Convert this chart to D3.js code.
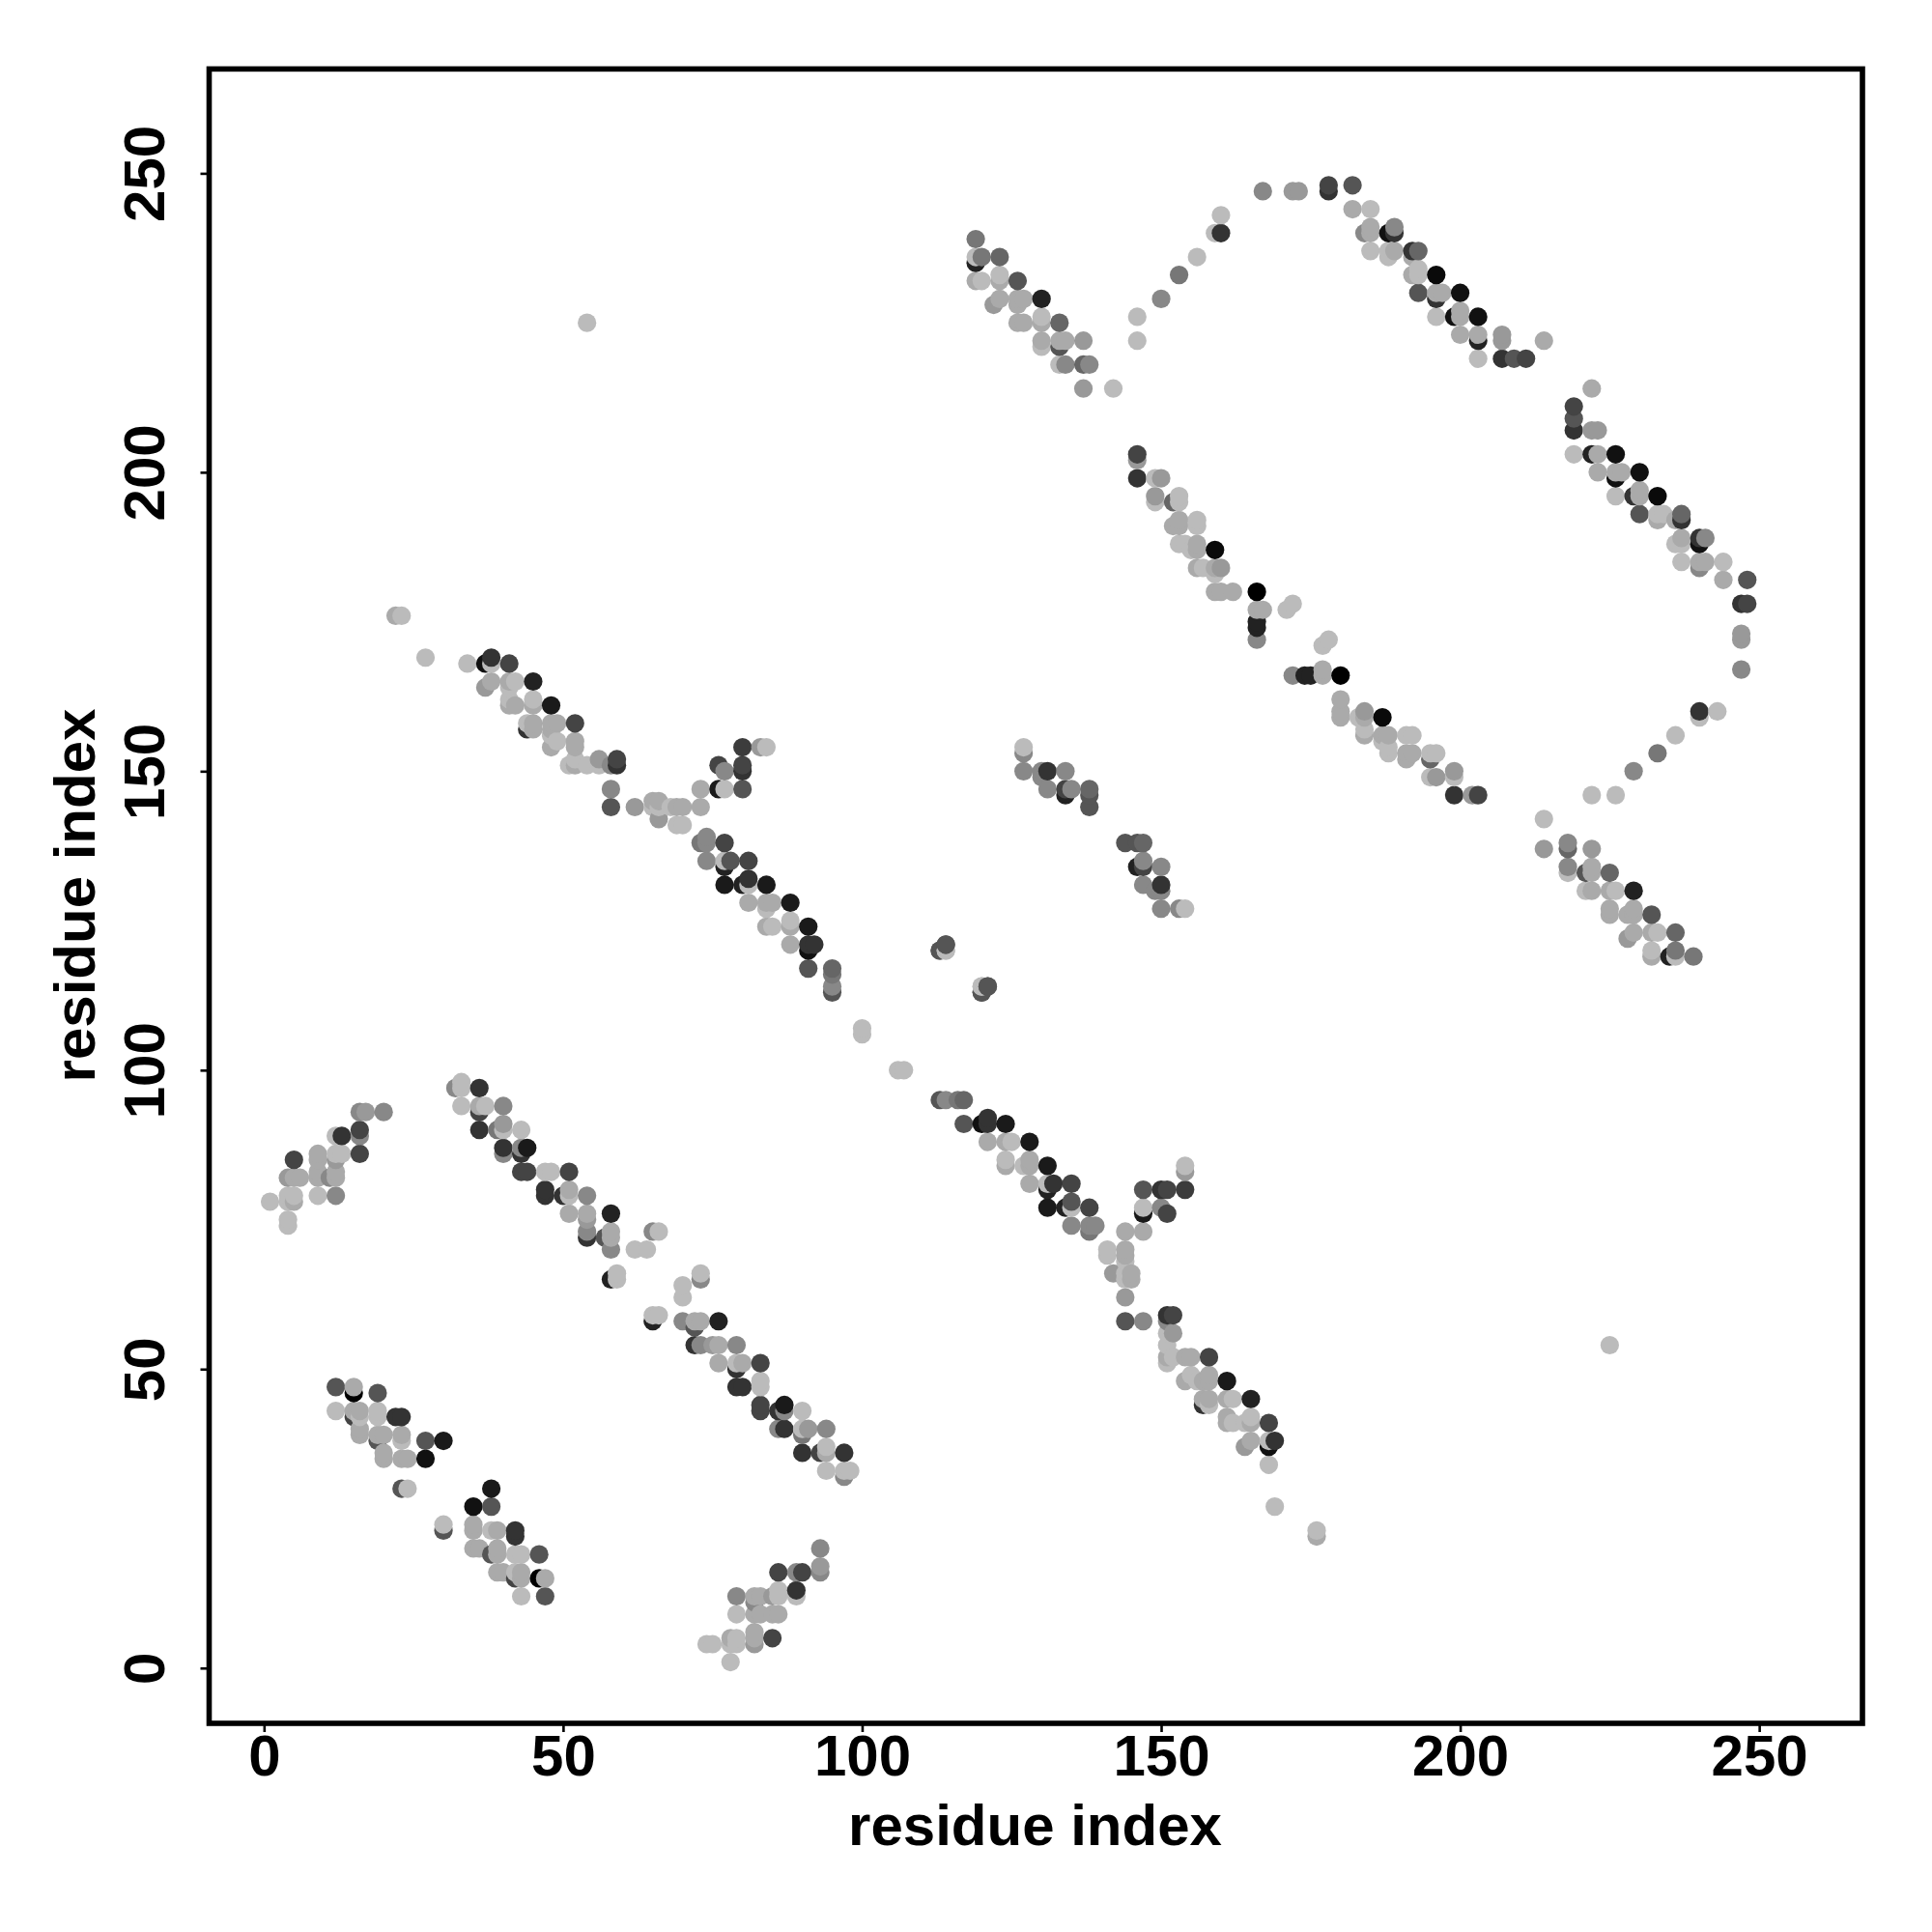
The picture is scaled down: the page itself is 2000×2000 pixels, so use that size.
<!DOCTYPE html>
<html><head><meta charset="utf-8">
<script src="https://cdn.jsdelivr.net/npm/d3@7"></script>
<style>html,body{margin:0;padding:0;background:#fff}svg{display:block}</style>
</head><body><svg id="c" width="2000" height="2000"></svg>
<script>
// contacts [residue i, residue j, grey level]; the map is symmetric, only i>j is listed
const hairpinA = [[30,24,187],[30,23,85],[35,24,170],[35,23,170],[38,30,26],[35,27,17],[38,27,85],[38,23,187],[39,23,170],[42,23,51],[42,22,51],[35,20,170],[36,20,170],[38,19,85],[39,20,170],[39,19,170],[42,19,187],[43,19,187],[46,19,85],[39,16,170],[40,16,170],[42,16,187],[43,16,170],[42,15,68],[43,15,170],[46,15,0],[47,15,170],[43,12,187],[47,12,85]];
const hairpinB = [[73,66,187],[73,65,136],[70,64,187],[70,62,187],[65,59,187],[66,59,187],[65,58,34],[70,58,136],[72,58,170],[73,58,170],[72,57,85],[76,58,34],[72,54,51],[73,54,136],[75,54,153],[76,54,170],[79,54,136],[76,51,170],[79,51,187],[80,51,170],[79,50,51],[83,51,68],[79,47,51],[80,47,51],[83,48,187],[83,47,187],[83,44,68],[83,43,68],[86,43,51],[87,44,26],[87,43,136],[90,43,187],[86,40,136],[87,40,51],[90,40,187],[91,40,153],[90,39,119],[94,40,136],[90,36,51],[93,36,68],[94,37,187],[94,36,170],[97,36,51],[94,33,187],[97,33,187],[98,33,187],[97,32,136]];
const strandC = [[93,20,136],[93,17,153],[93,16,136],[86,16,68],[89,16,136],[90,16,68],[89,13,51],[89,12,187],[86,13,187],[86,12,187],[79,12,136],[79,9,187],[82,12,170],[83,12,170],[85,12,153],[82,11,136],[82,9,170],[83,9,170],[85,9,170],[86,9,170],[85,5,68],[82,6,170],[82,5,170],[82,4,153],[78,5,170],[79,5,187],[78,4,187],[79,4,187],[74,4,187],[75,4,187],[78,1,187]];
const strandD = [[144,62,153],[144,58,85],[147,58,136],[151,59,51],[152,59,68],[151,58,136],[152,56,153],[151,56,187],[151,54,187],[151,52,170],[151,51,187],[152,52,187],[154,52,170],[155,52,170],[158,52,68],[154,48,170],[155,49,187],[156,48,187],[157,48,170],[158,49,170],[158,48,170],[161,48,26],[157,45,170],[158,45,170],[157,44,51],[158,44,187],[161,45,170],[162,45,187],[165,45,34],[161,42,170],[161,41,170],[162,41,187],[164,41,187],[165,42,187],[165,41,170],[168,41,68],[164,37,153],[165,38,170],[168,38,187],[169,38,51],[168,37,17],[168,34,187],[169,27,187],[176,23,187],[176,22,170]];
const strandE = [[113,95,85],[114,95,136],[116,95,119],[117,95,102],[117,91,85],[120,91,17],[121,92,51],[121,91,51],[124,91,26],[121,88,170],[124,88,170],[125,88,187],[128,88,26],[124,85,187],[124,84,170],[127,84,187],[128,85,170],[128,84,170],[131,84,26],[128,81,170],[131,81,187],[131,80,34],[132,81,51],[135,81,68],[131,77,26],[134,77,34],[135,78,85],[135,77,187],[138,77,68],[135,74,136],[138,74,136],[138,73,119],[139,74,136]];
const strandF = [[154,84,187],[154,83,153],[154,80,60],[147,80,85],[150,80,51],[151,80,68],[147,77,187],[147,76,26],[150,77,136],[151,76,68],[144,73,170],[147,73,170],[141,70,187],[141,69,187],[144,70,170],[144,69,170],[144,68,187],[142,66,153],[144,66,187],[145,66,170],[144,65,187],[145,65,170]];
const loopG = [[144,138,85],[146,138,85],[147,138,102],[146,134,34],[147,135,136],[147,134,68],[150,134,136],[147,131,136],[149,130,136],[150,131,51],[150,130,136],[150,127,136],[153,127,136],[154,127,187],[113,120,85],[114,120,187],[114,121,85],[120,114,187],[120,113,85],[121,114,85],[106,100,187],[107,100,187],[225,54,187]];
const hairpinH = [[172,166,136],[174,166,34],[175,166,34],[178,172,187],[177,171,187],[177,167,170],[177,166,170],[180,166,0],[180,162,170],[180,160,170],[180,159,170],[183,159,187],[184,160,153],[184,159,170],[187,159,10],[184,157,187],[184,156,170],[187,156,170],[188,156,170],[187,155,187],[188,154,187],[188,153,187],[191,156,187],[192,156,187],[191,153,170],[192,153,170],[191,152,170],[195,153,187],[196,153,187],[195,152,102],[195,149,187],[196,149,153],[199,150,153],[199,149,187],[199,146,51],[202,146,153],[203,146,68]];
const strandI = [[214,142,187],[214,137,153],[218,138,136],[218,137,102],[222,137,153],[218,134,136],[218,133,187],[221,133,85],[222,134,170],[222,133,170],[225,133,102],[221,130,187],[222,130,170],[225,130,170],[226,130,187],[229,130,34],[225,127,170],[225,126,170],[228,126,170],[229,127,170],[229,126,170],[232,126,85],[228,122,153],[229,123,170],[232,123,170],[233,123,187],[236,123,102],[232,120,187],[232,119,170],[235,119,34],[236,120,119],[236,119,187],[239,119,119]];
const arcJ = [[222,146,187],[226,146,187],[229,150,136],[233,153,119],[236,156,187],[240,160,51],[240,159,187],[243,160,187],[247,167,136],[247,173,153],[247,172,153],[247,178,51],[248,178,68]];
const hairpinK = [[222,214,170],[219,211,68],[219,209,85],[219,207,51],[222,207,153],[223,207,153],[219,203,187],[222,203,34],[223,203,170],[226,203,17],[223,200,170],[226,200,170],[227,200,170],[226,199,17],[230,200,17],[226,196,187],[229,196,51],[230,197,170],[230,196,170],[233,196,10],[230,193,85],[233,193,187],[234,193,187],[233,192,170],[236,192,170],[237,193,102],[237,192,51],[236,188,187],[237,189,170],[237,188,187],[240,189,51],[241,189,136],[240,188,17],[237,185,187],[240,185,170],[241,185,170],[240,184,136],[244,185,187],[244,182,170],[248,182,85]];
const xTickValues = [0,50,100,150,200,250];
const yTickValues = [0,50,100,150,200,250];
const xLabel = "residue index", yLabel = "residue index";

const lower = [hairpinA,hairpinB,strandC,strandD,strandE,strandF,loopG,hairpinH,strandI,arcJ,hairpinK].flat();
const points = lower.flatMap(([i,j,g]) => [{x:i,y:j,g},{x:j,y:i,g}])
  .sort((a,b) => d3.ascending(a.x,b.x) || d3.ascending(a.y,b.y));

const font = '"Liberation Sans", Arial, sans-serif';
const svg = d3.select("#c");
svg.append("rect").attr("width",2000).attr("height",2000).attr("fill","#fff");
const L=216.5,R=1928,T=71.4,B=1784;
const x = d3.scaleLinear().domain([-9.18,267.26]).range([L,R]);
const y = d3.scaleLinear().domain([-9.25,267.45]).range([B,T]);
const grey = d3.scaleLinear().domain([0,255]).range(["#000","#fff"]);

svg.append("g").selectAll("circle").data(points).join("circle")
  .attr("cx",d=>x(d.x)).attr("cy",d=>y(d.y)).attr("r",9.6).attr("fill",d=>grey(d.g));

const ax = svg.append("g").attr("transform",`translate(0,${B})`)
  .call(d3.axisBottom(x).tickValues(xTickValues).tickSize(9).tickPadding(0).tickFormat(d3.format("d")));
const ay = svg.append("g").attr("transform",`translate(${L},0)`)
  .call(d3.axisLeft(y).tickValues(yTickValues).tickSize(9).tickPadding(0).tickFormat(d3.format("d")));
[ax,ay].forEach(a=>{a.select(".domain").remove();
  a.selectAll("line").attr("stroke","#000").attr("stroke-width",2.6);
  a.selectAll("text").attr("font-family",font).attr("font-weight","bold").attr("font-size",60).attr("fill","#000");});
ax.selectAll("text").attr("dy",null).attr("y",54).attr("text-anchor","middle");
ay.selectAll("text").attr("dy",null).attr("x",null)
  .attr("transform","translate(-47,0) rotate(-90)").attr("text-anchor","middle").attr("x",0).attr("y",0);

svg.append("rect").attr("x",L).attr("y",T).attr("width",R-L).attr("height",B-T)
  .attr("fill","none").attr("stroke","#000").attr("stroke-width",5.6);

svg.append("text").attr("x",1071.5).attr("y",1910).attr("text-anchor","middle")
  .attr("font-family",font).attr("font-weight","bold").attr("font-size",60).text(xLabel);
svg.append("text").attr("transform",`translate(98,927) rotate(-90)`).attr("text-anchor","middle")
  .attr("font-family",font).attr("font-weight","bold").attr("font-size",60).text(yLabel);
</script></body></html>
